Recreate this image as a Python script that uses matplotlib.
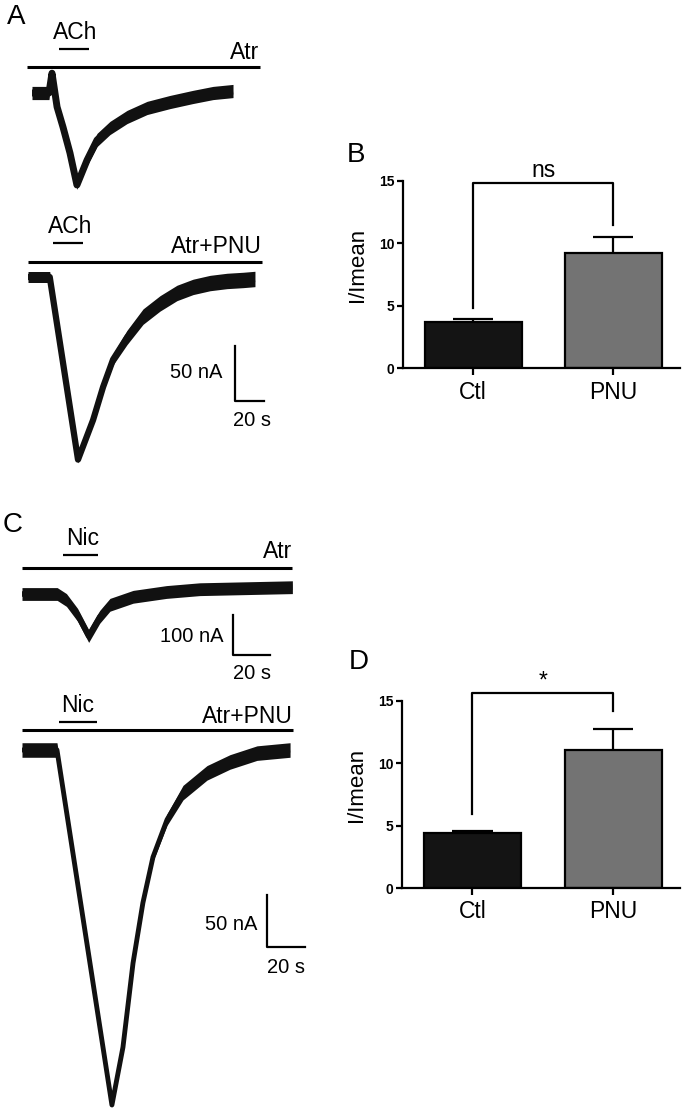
import matplotlib.pyplot as plt
import numpy as np

plt.rcParams['font.family'] = ['Liberation Sans', 'DejaVu Sans']

# --- trace data (time in s, current in nA, noise half-width in nA) ---
a1_t = [0, 11.7, 13.8, 17.3, 21.4, 26.2, 31, 38, 44.9, 53.8, 65.6, 79.4, 95.2, 111, 124.9, 138.7]
a1_i = [0, 0, 18, -12.7, -31, -54.5, -83.6, -61, -42.7, -31.8, -21.8, -13.6, -8.2, -3.6, 0, 1.8]
a1_w = [6, 6, 2, 2, 2, 2, 4, 5, 6, 6, 6, 6, 6, 6, 6, 6]

a2_t = [0, 15, 34.5, 44.9, 51.8, 58.7, 68.3, 79.4, 91.1, 102.8, 113.9, 125.6, 137.3, 148.4, 156.6]
a2_i = [0, 0, -166, -130, -100, -75, -55, -36, -24, -14.5, -9, -5.5, -3.6, -2.7, -1.8]
a2_w = [5, 5, 3, 3, 4, 5, 6.5, 7, 7, 7, 7, 7, 7, 7, 7]

c1_t = [0, 19, 24, 30, 36, 42, 47.5, 60, 78, 96, 146]
c1_i = [0, 0, -15, -52, -105, -57, -27, -7, 5, 12, 17]
c1_w = [16, 16, 16, 16, 16, 16, 16, 16, 16, 16, 16]

c2_t = [0, 18.4, 47.3, 53.1, 58.4, 63.6, 68.9, 76.3, 84.7, 97.3, 109.4, 123.6, 141]
c2_i = [0, 0, -341.5, -286, -205, -147, -103, -67, -41, -22, -11.5, -3, 0]
c2_w = [7, 7, 2, 2, 2, 2.5, 4, 5.5, 7, 7, 7, 7, 7]

# --- bar chart data ---
categories = ['Ctl', 'PNU']
bar_colors = ['#141414', '#737373']
b_mean = [3.7, 9.2]
b_sem = [0.25, 1.3]
d_mean = [4.4, 11.05]
d_sem = [0.17, 1.7]

W, H = 685, 1119
fig = plt.figure(figsize=(W / 100, H / 100), dpi=100)


def px_axes(left, top, width, height):
    return fig.add_axes([left / W, 1 - (top + height) / H, width / W, height / H])


def trace_axes(box, origin, s_per_px, na_per_px):
    left, top, w, h = box
    ox, oy = origin
    ax = px_axes(left, top, w, h)
    ax.set_xlim((left - ox) * s_per_px, (left + w - ox) * s_per_px)
    ax.set_ylim((oy - (top + h)) * na_per_px, (oy - top) * na_per_px)
    ax.axis('off')
    return ax


def draw_trace(ax, t, i, w, lw):
    t, i, w = np.asarray(t), np.asarray(i), np.asarray(w)
    ax.fill_between(t, i - w, i + w, color='#111111', linewidth=0)
    ax.plot(t, i, color='#111111', lw=lw, solid_joinstyle='round', solid_capstyle='butt')


def hbar(ax, t0, t1, y, lw):
    ax.plot([t0, t1], [y, y], color='black', lw=lw, solid_capstyle='butt')


def scale_bar(ax, t, y, dt, di, ilabel, tlabel, il_pos, tl_pos, fs=14.5):
    ax.plot([t, t, t + dt], [y, y - di, y - di], color='black', lw=1.6)
    ax.text(il_pos[0], il_pos[1], ilabel, ha='right', va='center', fontsize=fs)
    ax.text(tl_pos[0], tl_pos[1], tlabel, ha='center', va='center', fontsize=fs)


LFS = 16.5

# Panel A, top trace
ax = trace_axes((10, 20, 330, 180), (32, 93), 0.69, 0.909)
draw_trace(ax, a1_t, a1_i, a1_w, 5)
hbar(ax, -3.5, 157, 23.6, 2.2)
hbar(ax, 18.6, 39.3, 40, 1.6)
ax.text(29.7, 49, 'ACh', ha='center', va='baseline', fontsize=LFS)
ax.text(157, 30.9, 'Atr', ha='right', va='baseline', fontsize=LFS)

# Panel A, bottom trace
ax = trace_axes((10, 200, 330, 280), (28, 277), 0.69, 0.909)
draw_trace(ax, a2_t, a2_i, a2_w, 4.5)
hbar(ax, 0, 161.5, 13.6, 2.2)
hbar(ax, 17.3, 38, 31, 1.6)
ax.text(29, 40, 'ACh', ha='center', va='baseline', fontsize=LFS)
ax.text(161.5, 21.8, 'Atr+PNU', ha='right', va='baseline', fontsize=LFS)
scale_bar(ax, 142.8, -62.7, 20, 50, '50 nA', '20 s', (133.9, -87), (154.5, -130))

# Panel C, top trace
ax = trace_axes((5, 530, 320, 160), (22, 594), 0.54, 2.5)
draw_trace(ax, c1_t, c1_i, c1_w, 4)
hbar(ax, 0, 146, 65, 2.2)
hbar(ax, 22, 41, 97.5, 1.6)
ax.text(33, 122.5, 'Nic', ha='center', va='baseline', fontsize=LFS)
ax.text(146, 90, 'Atr', ha='right', va='baseline', fontsize=LFS)
scale_bar(ax, 114, -52.5, 20, 100, '100 nA', '20 s', (109, -107), (124, -198))

# Panel C, bottom trace
ax = trace_axes((5, 695, 320, 424), (22, 750), 0.526, 0.962)
draw_trace(ax, c2_t, c2_i, c2_w, 3.5)
hbar(ax, 0, 142.5, 19, 2.2)
hbar(ax, 19.5, 39.5, 27, 1.6)
ax.text(29.5, 36.5, 'Nic', ha='center', va='baseline', fontsize=LFS)
ax.text(142.5, 26, 'Atr+PNU', ha='right', va='baseline', fontsize=LFS)
scale_bar(ax, 128.9, -139.5, 20, 50, '50 nA', '20 s', (123.6, -168), (138.9, -209))


def bar_panel(box, means, sems, leg_l, leg_r, top, sig, sig_y):
    ax = px_axes(*box)
    x = np.arange(len(categories))
    ax.bar(x, means, width=0.69, color=bar_colors, edgecolor='black', linewidth=1.6, zorder=2)
    tops = np.asarray(means) + np.asarray(sems)
    ax.vlines(x, means, tops, color='black', lw=1.6, zorder=3)
    ax.hlines(tops, x - 0.143, x + 0.143, color='black', lw=1.6, zorder=3)
    ax.plot([0, 0, 1, 1], [leg_l, top, top, leg_r], color='black', lw=1.6, clip_on=False)
    ax.text(0.5, sig_y, sig, ha='center', va='baseline', fontsize=16.5)
    ax.set_xlim(-0.5, 1.475)
    ax.set_ylim(0, 17)
    for s in ['top', 'right']:
        ax.spines[s].set_visible(False)
    for s in ['left', 'bottom']:
        ax.spines[s].set_linewidth(1.6)
    ax.spines['left'].set_bounds(0, 15)
    ax.set_yticks([0, 5, 10, 15])
    ax.set_yticklabels(['0', '5', '10', '15'], fontweight='bold', fontsize=10)
    ax.set_xticks(x)
    ax.set_xticklabels(categories, fontsize=16.5)
    ax.tick_params(axis='y', length=4, width=1.6, pad=2)
    ax.tick_params(axis='x', length=5, width=1.6, pad=4)
    ax.set_ylabel('I/Imean', fontsize=16)
    ax.yaxis.set_label_coords(-0.126, 8.3 / 17)
    return ax


bar_panel((403, 156, 277, 212), b_mean, b_sem, 4.8, 11.5, 14.8, 'ns', 15.3)
bar_panel((402, 676, 278, 212), d_mean, d_sem, 5.93, 14.2, 15.64, '*', 16.1)

# panel letters
for label, px, py in [('A', 7, 17), ('B', 347, 155), ('C', 3, 525), ('D', 349, 662)]:
    fig.text(px / W, 1 - py / H, label, fontsize=20, ha='left', va='center')

fig.savefig('out.png', dpi=100)
